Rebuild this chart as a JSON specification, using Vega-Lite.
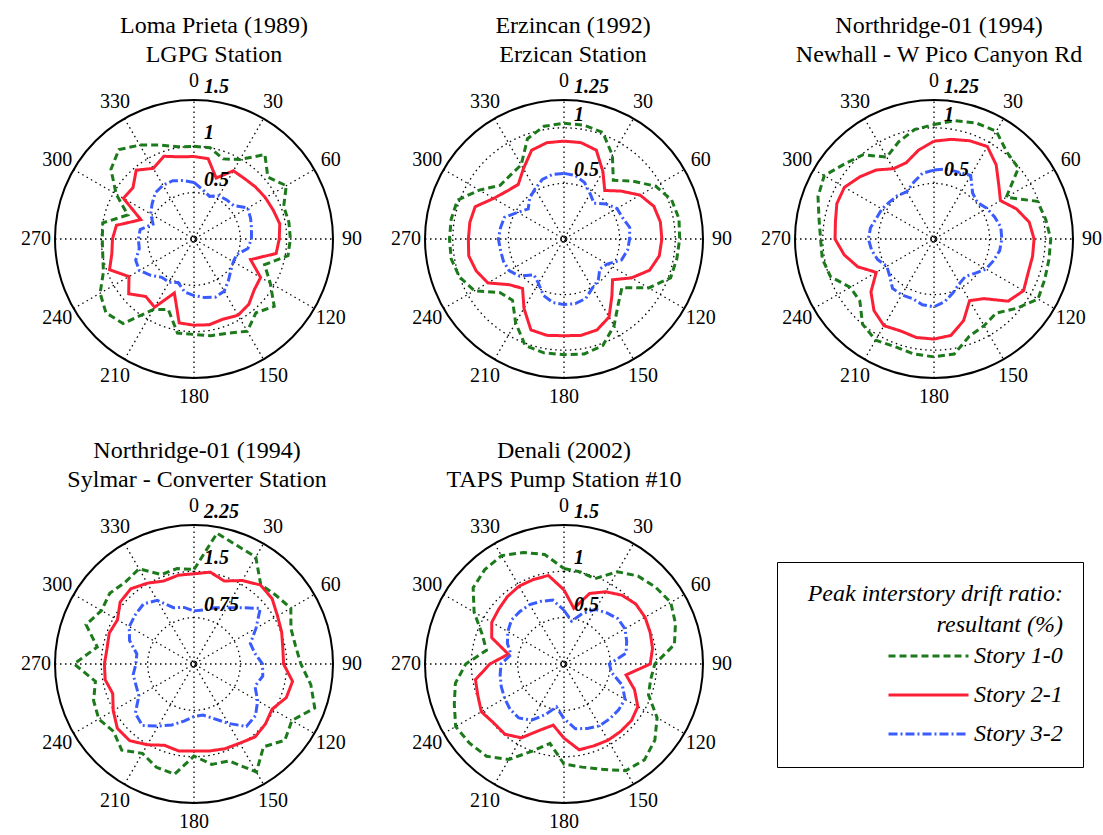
{
"$schema":"https://vega.github.io/schema/vega-lite/v6.json",
"background":"white",
"padding":{"left":21,"top":14,"right":0,"bottom":0},
"bounds":"flush",
"columns":3,
"spacing":{"row":147,"column":92},
"datasets":{
"spk":[{"a":0},{"a":30},{"a":60},{"a":90},{"a":120},{"a":150}],
"ang":[{"a":0},{"a":30},{"a":60},{"a":90},{"a":120},{"a":150},{"a":180},{"a":210},{"a":240},{"a":270},{"a":300},{"a":330}],
"lp":[
{"a":0,"Story 1-0":1.00,"Story 2-1":0.89,"Story 3-2":0.61},
{"a":10,"Story 1-0":1.00,"Story 2-1":0.88,"Story 3-2":0.54},
{"a":20,"Story 1-0":0.92,"Story 2-1":0.70,"Story 3-2":0.49},
{"a":30,"Story 1-0":0.99,"Story 2-1":0.85,"Story 3-2":0.54},
{"a":40,"Story 1-0":1.19,"Story 2-1":0.85,"Story 3-2":0.55},
{"a":50,"Story 1-0":1.04,"Story 2-1":0.87,"Story 3-2":0.56},
{"a":60,"Story 1-0":1.15,"Story 2-1":0.89,"Story 3-2":0.67},
{"a":70,"Story 1-0":1.03,"Story 2-1":0.91,"Story 3-2":0.65},
{"a":80,"Story 1-0":1.04,"Story 2-1":0.94,"Story 3-2":0.63},
{"a":90,"Story 1-0":1.04,"Story 2-1":0.92,"Story 3-2":0.62},
{"a":100,"Story 1-0":1.03,"Story 2-1":0.90,"Story 3-2":0.59},
{"a":110,"Story 1-0":0.81,"Story 2-1":0.65,"Story 3-2":0.49},
{"a":120,"Story 1-0":0.95,"Story 2-1":0.83,"Story 3-2":0.49},
{"a":130,"Story 1-0":1.13,"Story 2-1":0.85,"Story 3-2":0.52},
{"a":140,"Story 1-0":1.04,"Story 2-1":0.92,"Story 3-2":0.58},
{"a":150,"Story 1-0":1.15,"Story 2-1":0.95,"Story 3-2":0.65},
{"a":160,"Story 1-0":1.08,"Story 2-1":0.92,"Story 3-2":0.67},
{"a":170,"Story 1-0":1.06,"Story 2-1":0.94,"Story 3-2":0.64},
{"a":180,"Story 1-0":1.03,"Story 2-1":0.93,"Story 3-2":0.61},
{"a":190,"Story 1-0":1.03,"Story 2-1":0.92,"Story 3-2":0.58},
{"a":200,"Story 1-0":0.81,"Story 2-1":0.62,"Story 3-2":0.50},
{"a":210,"Story 1-0":0.88,"Story 2-1":0.85,"Story 3-2":0.54},
{"a":220,"Story 1-0":1.19,"Story 2-1":0.81,"Story 3-2":0.54},
{"a":230,"Story 1-0":1.24,"Story 2-1":0.92,"Story 3-2":0.61},
{"a":240,"Story 1-0":1.17,"Story 2-1":0.81,"Story 3-2":0.68},
{"a":250,"Story 1-0":1.04,"Story 2-1":0.97,"Story 3-2":0.67},
{"a":260,"Story 1-0":1.00,"Story 2-1":0.90,"Story 3-2":0.60},
{"a":270,"Story 1-0":0.99,"Story 2-1":0.88,"Story 3-2":0.60},
{"a":280,"Story 1-0":1.00,"Story 2-1":0.85,"Story 3-2":0.59},
{"a":290,"Story 1-0":0.76,"Story 2-1":0.61,"Story 3-2":0.47},
{"a":300,"Story 1-0":0.97,"Story 2-1":0.88,"Story 3-2":0.54},
{"a":310,"Story 1-0":1.17,"Story 2-1":0.86,"Story 3-2":0.59},
{"a":320,"Story 1-0":1.26,"Story 2-1":0.97,"Story 3-2":0.65},
{"a":330,"Story 1-0":1.17,"Story 2-1":0.88,"Story 3-2":0.67},
{"a":340,"Story 1-0":1.08,"Story 2-1":0.95,"Story 3-2":0.67},
{"a":350,"Story 1-0":1.01,"Story 2-1":0.90,"Story 3-2":0.64},
{"a":360,"Story 1-0":1.00,"Story 2-1":0.89,"Story 3-2":0.61}],
"erz":[
{"a":0,"Story 1-0":1.04,"Story 2-1":0.88,"Story 3-2":0.59},
{"a":10,"Story 1-0":1.04,"Story 2-1":0.88,"Story 3-2":0.58},
{"a":20,"Story 1-0":1.02,"Story 2-1":0.85,"Story 3-2":0.54},
{"a":30,"Story 1-0":0.87,"Story 2-1":0.70,"Story 3-2":0.47},
{"a":40,"Story 1-0":0.69,"Story 2-1":0.57,"Story 3-2":0.42},
{"a":50,"Story 1-0":0.81,"Story 2-1":0.67,"Story 3-2":0.49},
{"a":60,"Story 1-0":0.95,"Story 2-1":0.79,"Story 3-2":0.55},
{"a":70,"Story 1-0":1.03,"Story 2-1":0.86,"Story 3-2":0.56},
{"a":80,"Story 1-0":1.05,"Story 2-1":0.88,"Story 3-2":0.60},
{"a":90,"Story 1-0":1.04,"Story 2-1":0.88,"Story 3-2":0.59},
{"a":100,"Story 1-0":1.03,"Story 2-1":0.87,"Story 3-2":0.58},
{"a":110,"Story 1-0":1.02,"Story 2-1":0.82,"Story 3-2":0.55},
{"a":120,"Story 1-0":0.88,"Story 2-1":0.70,"Story 3-2":0.45},
{"a":130,"Story 1-0":0.68,"Story 2-1":0.57,"Story 3-2":0.42},
{"a":140,"Story 1-0":0.76,"Story 2-1":0.67,"Story 3-2":0.48},
{"a":150,"Story 1-0":0.90,"Story 2-1":0.81,"Story 3-2":0.51},
{"a":160,"Story 1-0":1.02,"Story 2-1":0.87,"Story 3-2":0.57},
{"a":170,"Story 1-0":1.05,"Story 2-1":0.88,"Story 3-2":0.59},
{"a":180,"Story 1-0":1.04,"Story 2-1":0.87,"Story 3-2":0.59},
{"a":190,"Story 1-0":1.04,"Story 2-1":0.88,"Story 3-2":0.58},
{"a":200,"Story 1-0":1.02,"Story 2-1":0.87,"Story 3-2":0.54},
{"a":210,"Story 1-0":0.87,"Story 2-1":0.72,"Story 3-2":0.46},
{"a":220,"Story 1-0":0.72,"Story 2-1":0.58,"Story 3-2":0.42},
{"a":230,"Story 1-0":0.75,"Story 2-1":0.64,"Story 3-2":0.52},
{"a":240,"Story 1-0":0.93,"Story 2-1":0.79,"Story 3-2":0.57},
{"a":250,"Story 1-0":1.00,"Story 2-1":0.84,"Story 3-2":0.58},
{"a":260,"Story 1-0":1.03,"Story 2-1":0.87,"Story 3-2":0.58},
{"a":270,"Story 1-0":1.03,"Story 2-1":0.86,"Story 3-2":0.59},
{"a":280,"Story 1-0":1.03,"Story 2-1":0.86,"Story 3-2":0.58},
{"a":290,"Story 1-0":1.02,"Story 2-1":0.85,"Story 3-2":0.57},
{"a":300,"Story 1-0":0.88,"Story 2-1":0.73,"Story 3-2":0.48},
{"a":310,"Story 1-0":0.75,"Story 2-1":0.67,"Story 3-2":0.42},
{"a":320,"Story 1-0":0.75,"Story 2-1":0.64,"Story 3-2":0.48},
{"a":330,"Story 1-0":0.77,"Story 2-1":0.73,"Story 3-2":0.52},
{"a":340,"Story 1-0":0.96,"Story 2-1":0.85,"Story 3-2":0.57},
{"a":350,"Story 1-0":1.03,"Story 2-1":0.88,"Story 3-2":0.59},
{"a":360,"Story 1-0":1.04,"Story 2-1":0.88,"Story 3-2":0.59}],
"nwh":[
{"a":0,"Story 1-0":1.03,"Story 2-1":0.88,"Story 3-2":0.62},
{"a":10,"Story 1-0":1.08,"Story 2-1":0.91,"Story 3-2":0.64},
{"a":20,"Story 1-0":1.11,"Story 2-1":0.94,"Story 3-2":0.64},
{"a":30,"Story 1-0":1.12,"Story 2-1":0.96,"Story 3-2":0.66},
{"a":40,"Story 1-0":1.02,"Story 2-1":0.87,"Story 3-2":0.54},
{"a":50,"Story 1-0":0.99,"Story 2-1":0.76,"Story 3-2":0.51},
{"a":60,"Story 1-0":0.75,"Story 2-1":0.69,"Story 3-2":0.55},
{"a":70,"Story 1-0":0.99,"Story 2-1":0.79,"Story 3-2":0.58},
{"a":80,"Story 1-0":1.02,"Story 2-1":0.87,"Story 3-2":0.61},
{"a":90,"Story 1-0":1.05,"Story 2-1":0.90,"Story 3-2":0.61},
{"a":100,"Story 1-0":1.05,"Story 2-1":0.90,"Story 3-2":0.60},
{"a":110,"Story 1-0":1.06,"Story 2-1":0.90,"Story 3-2":0.57},
{"a":120,"Story 1-0":1.08,"Story 2-1":0.93,"Story 3-2":0.54},
{"a":130,"Story 1-0":0.97,"Story 2-1":0.87,"Story 3-2":0.48},
{"a":140,"Story 1-0":0.87,"Story 2-1":0.70,"Story 3-2":0.44},
{"a":150,"Story 1-0":0.90,"Story 2-1":0.64,"Story 3-2":0.46},
{"a":160,"Story 1-0":0.93,"Story 2-1":0.78,"Story 3-2":0.51},
{"a":170,"Story 1-0":1.05,"Story 2-1":0.88,"Story 3-2":0.57},
{"a":180,"Story 1-0":1.06,"Story 2-1":0.90,"Story 3-2":0.61},
{"a":190,"Story 1-0":1.05,"Story 2-1":0.90,"Story 3-2":0.60},
{"a":200,"Story 1-0":1.03,"Story 2-1":0.88,"Story 3-2":0.57},
{"a":210,"Story 1-0":1.05,"Story 2-1":0.90,"Story 3-2":0.58},
{"a":220,"Story 1-0":1.00,"Story 2-1":0.84,"Story 3-2":0.58},
{"a":230,"Story 1-0":0.87,"Story 2-1":0.74,"Story 3-2":0.52},
{"a":240,"Story 1-0":0.87,"Story 2-1":0.60,"Story 3-2":0.49},
{"a":250,"Story 1-0":0.99,"Story 2-1":0.73,"Story 3-2":0.54},
{"a":260,"Story 1-0":1.02,"Story 2-1":0.82,"Story 3-2":0.57},
{"a":270,"Story 1-0":1.02,"Story 2-1":0.89,"Story 3-2":0.59},
{"a":280,"Story 1-0":1.05,"Story 2-1":0.90,"Story 3-2":0.58},
{"a":290,"Story 1-0":1.11,"Story 2-1":0.93,"Story 3-2":0.55},
{"a":300,"Story 1-0":1.14,"Story 2-1":0.93,"Story 3-2":0.54},
{"a":310,"Story 1-0":1.05,"Story 2-1":0.87,"Story 3-2":0.52},
{"a":320,"Story 1-0":0.99,"Story 2-1":0.81,"Story 3-2":0.51},
{"a":330,"Story 1-0":0.85,"Story 2-1":0.73,"Story 3-2":0.49},
{"a":340,"Story 1-0":0.93,"Story 2-1":0.73,"Story 3-2":0.54},
{"a":350,"Story 1-0":1.00,"Story 2-1":0.81,"Story 3-2":0.60},
{"a":360,"Story 1-0":1.03,"Story 2-1":0.88,"Story 3-2":0.62}],
"syl":[
{"a":0,"Story 1-0":1.53,"Story 2-1":1.46,"Story 3-2":0.86},
{"a":10,"Story 1-0":2.15,"Story 2-1":1.51,"Story 3-2":0.89},
{"a":20,"Story 1-0":2.04,"Story 2-1":1.43,"Story 3-2":0.97},
{"a":30,"Story 1-0":2.00,"Story 2-1":1.56,"Story 3-2":1.05},
{"a":40,"Story 1-0":1.68,"Story 2-1":1.67,"Story 3-2":1.19},
{"a":50,"Story 1-0":1.73,"Story 2-1":1.65,"Story 3-2":1.40},
{"a":60,"Story 1-0":1.81,"Story 2-1":1.56,"Story 3-2":1.16},
{"a":70,"Story 1-0":1.67,"Story 2-1":1.51,"Story 3-2":0.97},
{"a":80,"Story 1-0":1.67,"Story 2-1":1.46,"Story 3-2":1.00},
{"a":90,"Story 1-0":1.73,"Story 2-1":1.45,"Story 3-2":1.11},
{"a":100,"Story 1-0":1.92,"Story 2-1":1.62,"Story 3-2":1.13},
{"a":110,"Story 1-0":2.08,"Story 2-1":1.59,"Story 3-2":1.05},
{"a":120,"Story 1-0":1.83,"Story 2-1":1.46,"Story 3-2":1.19},
{"a":130,"Story 1-0":1.92,"Story 2-1":1.51,"Story 3-2":1.30},
{"a":140,"Story 1-0":1.75,"Story 2-1":1.54,"Story 3-2":1.32},
{"a":150,"Story 1-0":2.02,"Story 2-1":1.48,"Story 3-2":1.11},
{"a":160,"Story 1-0":1.67,"Story 2-1":1.46,"Story 3-2":0.94},
{"a":170,"Story 1-0":1.65,"Story 2-1":1.43,"Story 3-2":0.84},
{"a":180,"Story 1-0":1.49,"Story 2-1":1.41,"Story 3-2":0.85},
{"a":190,"Story 1-0":1.81,"Story 2-1":1.43,"Story 3-2":0.94},
{"a":200,"Story 1-0":1.78,"Story 2-1":1.40,"Story 3-2":1.05},
{"a":210,"Story 1-0":1.67,"Story 2-1":1.51,"Story 3-2":1.16},
{"a":220,"Story 1-0":1.82,"Story 2-1":1.62,"Story 3-2":1.30},
{"a":230,"Story 1-0":1.70,"Story 2-1":1.62,"Story 3-2":1.24},
{"a":240,"Story 1-0":1.78,"Story 2-1":1.51,"Story 3-2":1.03},
{"a":250,"Story 1-0":1.73,"Story 2-1":1.40,"Story 3-2":1.00},
{"a":260,"Story 1-0":1.62,"Story 2-1":1.46,"Story 3-2":1.00},
{"a":270,"Story 1-0":1.94,"Story 2-1":1.45,"Story 3-2":0.94},
{"a":280,"Story 1-0":1.59,"Story 2-1":1.43,"Story 3-2":0.94},
{"a":290,"Story 1-0":1.86,"Story 2-1":1.46,"Story 3-2":1.11},
{"a":300,"Story 1-0":1.73,"Story 2-1":1.43,"Story 3-2":1.21},
{"a":310,"Story 1-0":1.78,"Story 2-1":1.56,"Story 3-2":1.24},
{"a":320,"Story 1-0":1.73,"Story 2-1":1.59,"Story 3-2":1.27},
{"a":330,"Story 1-0":1.78,"Story 2-1":1.51,"Story 3-2":1.19},
{"a":340,"Story 1-0":1.54,"Story 2-1":1.43,"Story 3-2":0.97},
{"a":350,"Story 1-0":1.57,"Story 2-1":1.46,"Story 3-2":0.93},
{"a":360,"Story 1-0":1.53,"Story 2-1":1.46,"Story 3-2":0.86}],
"den":[
{"a":0,"Story 1-0":1.03,"Story 2-1":0.80,"Story 3-2":0.58},
{"a":10,"Story 1-0":1.01,"Story 2-1":0.61,"Story 3-2":0.47},
{"a":20,"Story 1-0":0.98,"Story 2-1":0.81,"Story 3-2":0.58},
{"a":30,"Story 1-0":1.15,"Story 2-1":0.90,"Story 3-2":0.68},
{"a":40,"Story 1-0":1.24,"Story 2-1":0.97,"Story 3-2":0.72},
{"a":50,"Story 1-0":1.29,"Story 2-1":1.01,"Story 3-2":0.76},
{"a":60,"Story 1-0":1.33,"Story 2-1":1.01,"Story 3-2":0.76},
{"a":70,"Story 1-0":1.28,"Story 2-1":0.99,"Story 3-2":0.72},
{"a":80,"Story 1-0":1.21,"Story 2-1":0.97,"Story 3-2":0.68},
{"a":90,"Story 1-0":0.98,"Story 2-1":0.93,"Story 3-2":0.49},
{"a":100,"Story 1-0":0.95,"Story 2-1":0.68,"Story 3-2":0.52},
{"a":110,"Story 1-0":0.97,"Story 2-1":0.81,"Story 3-2":0.67},
{"a":120,"Story 1-0":1.16,"Story 2-1":0.92,"Story 3-2":0.76},
{"a":130,"Story 1-0":1.28,"Story 2-1":0.95,"Story 3-2":0.77},
{"a":140,"Story 1-0":1.35,"Story 2-1":0.95,"Story 3-2":0.77},
{"a":150,"Story 1-0":1.33,"Story 2-1":0.95,"Story 3-2":0.77},
{"a":160,"Story 1-0":1.21,"Story 2-1":0.94,"Story 3-2":0.74},
{"a":170,"Story 1-0":1.13,"Story 2-1":0.94,"Story 3-2":0.71},
{"a":180,"Story 1-0":1.08,"Story 2-1":0.80,"Story 3-2":0.59},
{"a":190,"Story 1-0":0.87,"Story 2-1":0.67,"Story 3-2":0.47},
{"a":200,"Story 1-0":1.00,"Story 2-1":0.76,"Story 3-2":0.58},
{"a":210,"Story 1-0":1.19,"Story 2-1":0.92,"Story 3-2":0.70},
{"a":220,"Story 1-0":1.30,"Story 2-1":0.99,"Story 3-2":0.76},
{"a":230,"Story 1-0":1.33,"Story 2-1":0.99,"Story 3-2":0.76},
{"a":240,"Story 1-0":1.35,"Story 2-1":1.03,"Story 3-2":0.74},
{"a":250,"Story 1-0":1.26,"Story 2-1":0.99,"Story 3-2":0.72},
{"a":260,"Story 1-0":1.19,"Story 2-1":0.97,"Story 3-2":0.70},
{"a":270,"Story 1-0":1.06,"Story 2-1":0.80,"Story 3-2":0.68},
{"a":280,"Story 1-0":0.85,"Story 2-1":0.61,"Story 3-2":0.58},
{"a":290,"Story 1-0":0.94,"Story 2-1":0.83,"Story 3-2":0.65},
{"a":300,"Story 1-0":1.12,"Story 2-1":0.90,"Story 3-2":0.70},
{"a":310,"Story 1-0":1.28,"Story 2-1":0.92,"Story 3-2":0.74},
{"a":320,"Story 1-0":1.33,"Story 2-1":0.95,"Story 3-2":0.74},
{"a":330,"Story 1-0":1.35,"Story 2-1":0.97,"Story 3-2":0.74},
{"a":340,"Story 1-0":1.28,"Story 2-1":0.97,"Story 3-2":0.72},
{"a":350,"Story 1-0":1.20,"Story 2-1":0.97,"Story 3-2":0.70},
{"a":360,"Story 1-0":1.03,"Story 2-1":0.80,"Story 3-2":0.58}]
},
"concat":[
{"width":278,"height":278,"title":{"text":["Loma Prieta (1989)","LGPG Station"],"dx":20},
"layer":[
{"data":{"values":[{"r":0.5},{"r":1}]},"mark":{"type":"arc","theta":6.283185307179586,"fill":"transparent","stroke":"black","strokeWidth":1.3,"strokeDash":[1.5,3.5]},"encoding":{"radius":{"field":"r","type":"quantitative","stack":null,"scale":{"type":"linear","domain":[0,1.5],"range":[0,139],"zero":true}}}},
{"data":{"values":[{"r":1.5}]},"mark":{"type":"arc","theta":6.283185307179586,"fill":"transparent","stroke":"black","strokeWidth":2},"encoding":{"radius":{"field":"r","type":"quantitative","stack":null,"scale":{"type":"linear","domain":[0,1.5],"range":[0,139],"zero":true}}}},
{"data":{"values":[{}]},"mark":{"type":"arc","theta":6.283185307179586,"radius":3,"fill":"transparent","stroke":"black","strokeWidth":1},"encoding":{}},
{"data":{"name":"spk"},"transform":[{"calculate":"1.5*sin(datum.a*PI/180)","as":"ex"},{"calculate":"1.5*cos(datum.a*PI/180)","as":"ey"},{"calculate":"-datum.ex","as":"sx"},{"calculate":"-datum.ey","as":"sy"}],"mark":{"type":"rule","stroke":"black","strokeWidth":1.3,"strokeDash":[1.5,3.5]},"encoding":{"x":{"field":"sx","type":"quantitative","scale":{"domain":[-1.5,1.5],"nice":false,"zero":false},"axis":null},"y":{"field":"sy","type":"quantitative","scale":{"domain":[-1.5,1.5],"nice":false,"zero":false},"axis":null},"x2":{"field":"ex"},"y2":{"field":"ey"}}},
{"data":{"name":"ang"},"mark":{"type":"text","radius":158,"font":"Liberation Serif","fontSize":20,"color":"black","align":"center","baseline":"middle"},"encoding":{"theta":{"field":"a","type":"quantitative","stack":null,"scale":{"type":"linear","domain":[0,360],"range":[0,6.283185307179586],"zero":true}},"text":{"field":"a","type":"nominal"}}},
{"data":{"name":"lp"},"transform":[{"fold":["Story 1-0","Story 2-1","Story 3-2"],"as":["key","v"]},{"calculate":"datum.v*sin(datum.a*PI/180)","as":"x"},{"calculate":"datum.v*cos(datum.a*PI/180)","as":"y"}],"mark":{"type":"line","strokeWidth":3,"clip":false},"encoding":{"x":{"field":"x","type":"quantitative"},"y":{"field":"y","type":"quantitative"},"order":{"field":"a","type":"quantitative"},
"color":{"field":"key","type":"nominal","title":["Peak interstory drift ratio:","resultant (%)"],"scale":{"domain":["Story 1-0","Story 2-1","Story 3-2"],"range":["#1c7a1c","#fb2036","#3a5cff"]},"legend":{"orient":"none","legendX":722,"legendY":462}},
"strokeDash":{"field":"key","type":"nominal","title":["Peak interstory drift ratio:","resultant (%)"],"scale":{"domain":["Story 1-0","Story 2-1","Story 3-2"],"range":[[7,4],[1,0],[9,3,2,3]]},"legend":{"orient":"none","legendX":722,"legendY":462}}}},
{"data":{"values":[{"r":0.5},{"r":1},{"r":1.5}]},"mark":{"type":"text","theta":0,"radiusOffset":3,"align":"left","baseline":"bottom","dx":10,"font":"Liberation Serif","fontSize":20,"fontStyle":"italic","fontWeight":"bold","color":"black"},"encoding":{"radius":{"field":"r","type":"quantitative","stack":null},"text":{"field":"r","type":"nominal"}}}
]},
{"width":278,"height":278,"title":{"text":["Erzincan (1992)","Erzican Station"],"dx":9},
"layer":[
{"data":{"values":[{"r":0.5},{"r":1}]},"mark":{"type":"arc","theta":6.283185307179586,"fill":"transparent","stroke":"black","strokeWidth":1.3,"strokeDash":[1.5,3.5]},"encoding":{"radius":{"field":"r","type":"quantitative","stack":null,"scale":{"type":"linear","domain":[0,1.25],"range":[0,139],"zero":true}}}},
{"data":{"values":[{"r":1.25}]},"mark":{"type":"arc","theta":6.283185307179586,"fill":"transparent","stroke":"black","strokeWidth":2},"encoding":{"radius":{"field":"r","type":"quantitative","stack":null,"scale":{"type":"linear","domain":[0,1.25],"range":[0,139],"zero":true}}}},
{"data":{"values":[{}]},"mark":{"type":"arc","theta":6.283185307179586,"radius":3,"fill":"transparent","stroke":"black","strokeWidth":1},"encoding":{}},
{"data":{"name":"spk"},"transform":[{"calculate":"1.25*sin(datum.a*PI/180)","as":"ex"},{"calculate":"1.25*cos(datum.a*PI/180)","as":"ey"},{"calculate":"-datum.ex","as":"sx"},{"calculate":"-datum.ey","as":"sy"}],"mark":{"type":"rule","stroke":"black","strokeWidth":1.3,"strokeDash":[1.5,3.5]},"encoding":{"x":{"field":"sx","type":"quantitative","scale":{"domain":[-1.25,1.25],"nice":false,"zero":false},"axis":null},"y":{"field":"sy","type":"quantitative","scale":{"domain":[-1.25,1.25],"nice":false,"zero":false},"axis":null},"x2":{"field":"ex"},"y2":{"field":"ey"}}},
{"data":{"name":"ang"},"mark":{"type":"text","radius":158,"font":"Liberation Serif","fontSize":20,"color":"black","align":"center","baseline":"middle"},"encoding":{"theta":{"field":"a","type":"quantitative","stack":null,"scale":{"type":"linear","domain":[0,360],"range":[0,6.283185307179586],"zero":true}},"text":{"field":"a","type":"nominal"}}},
{"data":{"name":"erz"},"transform":[{"fold":["Story 1-0","Story 2-1","Story 3-2"],"as":["key","v"]},{"calculate":"datum.v*sin(datum.a*PI/180)","as":"x"},{"calculate":"datum.v*cos(datum.a*PI/180)","as":"y"}],"mark":{"type":"line","strokeWidth":3,"clip":false},"encoding":{"x":{"field":"x","type":"quantitative"},"y":{"field":"y","type":"quantitative"},"order":{"field":"a","type":"quantitative"},
"color":{"field":"key","type":"nominal","title":["Peak interstory drift ratio:","resultant (%)"],"scale":{"domain":["Story 1-0","Story 2-1","Story 3-2"],"range":["#1c7a1c","#fb2036","#3a5cff"]},"legend":{"orient":"none","legendX":722,"legendY":462}},
"strokeDash":{"field":"key","type":"nominal","title":["Peak interstory drift ratio:","resultant (%)"],"scale":{"domain":["Story 1-0","Story 2-1","Story 3-2"],"range":[[7,4],[1,0],[9,3,2,3]]},"legend":{"orient":"none","legendX":722,"legendY":462}}}},
{"data":{"values":[{"r":0.5},{"r":1},{"r":1.25}]},"mark":{"type":"text","theta":0,"radiusOffset":3,"align":"left","baseline":"bottom","dx":10,"font":"Liberation Serif","fontSize":20,"fontStyle":"italic","fontWeight":"bold","color":"black"},"encoding":{"radius":{"field":"r","type":"quantitative","stack":null},"text":{"field":"r","type":"nominal"}}}
]},
{"width":278,"height":278,"title":{"text":["Northridge-01 (1994)","Newhall - W Pico Canyon Rd"],"dx":5},
"layer":[
{"data":{"values":[{"r":0.5},{"r":1}]},"mark":{"type":"arc","theta":6.283185307179586,"fill":"transparent","stroke":"black","strokeWidth":1.3,"strokeDash":[1.5,3.5]},"encoding":{"radius":{"field":"r","type":"quantitative","stack":null,"scale":{"type":"linear","domain":[0,1.25],"range":[0,139],"zero":true}}}},
{"data":{"values":[{"r":1.25}]},"mark":{"type":"arc","theta":6.283185307179586,"fill":"transparent","stroke":"black","strokeWidth":2},"encoding":{"radius":{"field":"r","type":"quantitative","stack":null,"scale":{"type":"linear","domain":[0,1.25],"range":[0,139],"zero":true}}}},
{"data":{"values":[{}]},"mark":{"type":"arc","theta":6.283185307179586,"radius":3,"fill":"transparent","stroke":"black","strokeWidth":1},"encoding":{}},
{"data":{"name":"spk"},"transform":[{"calculate":"1.25*sin(datum.a*PI/180)","as":"ex"},{"calculate":"1.25*cos(datum.a*PI/180)","as":"ey"},{"calculate":"-datum.ex","as":"sx"},{"calculate":"-datum.ey","as":"sy"}],"mark":{"type":"rule","stroke":"black","strokeWidth":1.3,"strokeDash":[1.5,3.5]},"encoding":{"x":{"field":"sx","type":"quantitative","scale":{"domain":[-1.25,1.25],"nice":false,"zero":false},"axis":null},"y":{"field":"sy","type":"quantitative","scale":{"domain":[-1.25,1.25],"nice":false,"zero":false},"axis":null},"x2":{"field":"ex"},"y2":{"field":"ey"}}},
{"data":{"name":"ang"},"mark":{"type":"text","radius":158,"font":"Liberation Serif","fontSize":20,"color":"black","align":"center","baseline":"middle"},"encoding":{"theta":{"field":"a","type":"quantitative","stack":null,"scale":{"type":"linear","domain":[0,360],"range":[0,6.283185307179586],"zero":true}},"text":{"field":"a","type":"nominal"}}},
{"data":{"name":"nwh"},"transform":[{"fold":["Story 1-0","Story 2-1","Story 3-2"],"as":["key","v"]},{"calculate":"datum.v*sin(datum.a*PI/180)","as":"x"},{"calculate":"datum.v*cos(datum.a*PI/180)","as":"y"}],"mark":{"type":"line","strokeWidth":3,"clip":false},"encoding":{"x":{"field":"x","type":"quantitative"},"y":{"field":"y","type":"quantitative"},"order":{"field":"a","type":"quantitative"},
"color":{"field":"key","type":"nominal","title":["Peak interstory drift ratio:","resultant (%)"],"scale":{"domain":["Story 1-0","Story 2-1","Story 3-2"],"range":["#1c7a1c","#fb2036","#3a5cff"]},"legend":{"orient":"none","legendX":722,"legendY":462}},
"strokeDash":{"field":"key","type":"nominal","title":["Peak interstory drift ratio:","resultant (%)"],"scale":{"domain":["Story 1-0","Story 2-1","Story 3-2"],"range":[[7,4],[1,0],[9,3,2,3]]},"legend":{"orient":"none","legendX":722,"legendY":462}}}},
{"data":{"values":[{"r":0.5},{"r":1},{"r":1.25}]},"mark":{"type":"text","theta":0,"radiusOffset":3,"align":"left","baseline":"bottom","dx":10,"font":"Liberation Serif","fontSize":20,"fontStyle":"italic","fontWeight":"bold","color":"black"},"encoding":{"radius":{"field":"r","type":"quantitative","stack":null},"text":{"field":"r","type":"nominal"}}}
]},
{"width":278,"height":278,"title":{"text":["Northridge-01 (1994)","Sylmar - Converter Station"],"dx":3},
"layer":[
{"data":{"values":[{"r":0.75},{"r":1.5}]},"mark":{"type":"arc","theta":6.283185307179586,"fill":"transparent","stroke":"black","strokeWidth":1.3,"strokeDash":[1.5,3.5]},"encoding":{"radius":{"field":"r","type":"quantitative","stack":null,"scale":{"type":"linear","domain":[0,2.25],"range":[0,139],"zero":true}}}},
{"data":{"values":[{"r":2.25}]},"mark":{"type":"arc","theta":6.283185307179586,"fill":"transparent","stroke":"black","strokeWidth":2},"encoding":{"radius":{"field":"r","type":"quantitative","stack":null,"scale":{"type":"linear","domain":[0,2.25],"range":[0,139],"zero":true}}}},
{"data":{"values":[{}]},"mark":{"type":"arc","theta":6.283185307179586,"radius":3,"fill":"transparent","stroke":"black","strokeWidth":1},"encoding":{}},
{"data":{"name":"spk"},"transform":[{"calculate":"2.25*sin(datum.a*PI/180)","as":"ex"},{"calculate":"2.25*cos(datum.a*PI/180)","as":"ey"},{"calculate":"-datum.ex","as":"sx"},{"calculate":"-datum.ey","as":"sy"}],"mark":{"type":"rule","stroke":"black","strokeWidth":1.3,"strokeDash":[1.5,3.5]},"encoding":{"x":{"field":"sx","type":"quantitative","scale":{"domain":[-2.25,2.25],"nice":false,"zero":false},"axis":null},"y":{"field":"sy","type":"quantitative","scale":{"domain":[-2.25,2.25],"nice":false,"zero":false},"axis":null},"x2":{"field":"ex"},"y2":{"field":"ey"}}},
{"data":{"name":"ang"},"mark":{"type":"text","radius":158,"font":"Liberation Serif","fontSize":20,"color":"black","align":"center","baseline":"middle"},"encoding":{"theta":{"field":"a","type":"quantitative","stack":null,"scale":{"type":"linear","domain":[0,360],"range":[0,6.283185307179586],"zero":true}},"text":{"field":"a","type":"nominal"}}},
{"data":{"name":"syl"},"transform":[{"fold":["Story 1-0","Story 2-1","Story 3-2"],"as":["key","v"]},{"calculate":"datum.v*sin(datum.a*PI/180)","as":"x"},{"calculate":"datum.v*cos(datum.a*PI/180)","as":"y"}],"mark":{"type":"line","strokeWidth":3,"clip":false},"encoding":{"x":{"field":"x","type":"quantitative"},"y":{"field":"y","type":"quantitative"},"order":{"field":"a","type":"quantitative"},
"color":{"field":"key","type":"nominal","title":["Peak interstory drift ratio:","resultant (%)"],"scale":{"domain":["Story 1-0","Story 2-1","Story 3-2"],"range":["#1c7a1c","#fb2036","#3a5cff"]},"legend":{"orient":"none","legendX":722,"legendY":462}},
"strokeDash":{"field":"key","type":"nominal","title":["Peak interstory drift ratio:","resultant (%)"],"scale":{"domain":["Story 1-0","Story 2-1","Story 3-2"],"range":[[7,4],[1,0],[9,3,2,3]]},"legend":{"orient":"none","legendX":722,"legendY":462}}}},
{"data":{"values":[{"r":0.75},{"r":1.5},{"r":2.25}]},"mark":{"type":"text","theta":0,"radiusOffset":3,"align":"left","baseline":"bottom","dx":10,"font":"Liberation Serif","fontSize":20,"fontStyle":"italic","fontWeight":"bold","color":"black"},"encoding":{"radius":{"field":"r","type":"quantitative","stack":null},"text":{"field":"r","type":"nominal"}}}
]},
{"width":278,"height":278,"title":{"text":["Denali (2002)","TAPS Pump Station #10"]},
"layer":[
{"data":{"values":[{"r":0.5},{"r":1}]},"mark":{"type":"arc","theta":6.283185307179586,"fill":"transparent","stroke":"black","strokeWidth":1.3,"strokeDash":[1.5,3.5]},"encoding":{"radius":{"field":"r","type":"quantitative","stack":null,"scale":{"type":"linear","domain":[0,1.5],"range":[0,139],"zero":true}}}},
{"data":{"values":[{"r":1.5}]},"mark":{"type":"arc","theta":6.283185307179586,"fill":"transparent","stroke":"black","strokeWidth":2},"encoding":{"radius":{"field":"r","type":"quantitative","stack":null,"scale":{"type":"linear","domain":[0,1.5],"range":[0,139],"zero":true}}}},
{"data":{"values":[{}]},"mark":{"type":"arc","theta":6.283185307179586,"radius":3,"fill":"transparent","stroke":"black","strokeWidth":1},"encoding":{}},
{"data":{"name":"spk"},"transform":[{"calculate":"1.5*sin(datum.a*PI/180)","as":"ex"},{"calculate":"1.5*cos(datum.a*PI/180)","as":"ey"},{"calculate":"-datum.ex","as":"sx"},{"calculate":"-datum.ey","as":"sy"}],"mark":{"type":"rule","stroke":"black","strokeWidth":1.3,"strokeDash":[1.5,3.5]},"encoding":{"x":{"field":"sx","type":"quantitative","scale":{"domain":[-1.5,1.5],"nice":false,"zero":false},"axis":null},"y":{"field":"sy","type":"quantitative","scale":{"domain":[-1.5,1.5],"nice":false,"zero":false},"axis":null},"x2":{"field":"ex"},"y2":{"field":"ey"}}},
{"data":{"name":"ang"},"mark":{"type":"text","radius":158,"font":"Liberation Serif","fontSize":20,"color":"black","align":"center","baseline":"middle"},"encoding":{"theta":{"field":"a","type":"quantitative","stack":null,"scale":{"type":"linear","domain":[0,360],"range":[0,6.283185307179586],"zero":true}},"text":{"field":"a","type":"nominal"}}},
{"data":{"name":"den"},"transform":[{"fold":["Story 1-0","Story 2-1","Story 3-2"],"as":["key","v"]},{"calculate":"datum.v*sin(datum.a*PI/180)","as":"x"},{"calculate":"datum.v*cos(datum.a*PI/180)","as":"y"}],"mark":{"type":"line","strokeWidth":3,"clip":false},"encoding":{"x":{"field":"x","type":"quantitative"},"y":{"field":"y","type":"quantitative"},"order":{"field":"a","type":"quantitative"},
"color":{"field":"key","type":"nominal","title":["Peak interstory drift ratio:","resultant (%)"],"scale":{"domain":["Story 1-0","Story 2-1","Story 3-2"],"range":["#1c7a1c","#fb2036","#3a5cff"]},"legend":{"orient":"none","legendX":722,"legendY":462}},
"strokeDash":{"field":"key","type":"nominal","title":["Peak interstory drift ratio:","resultant (%)"],"scale":{"domain":["Story 1-0","Story 2-1","Story 3-2"],"range":[[7,4],[1,0],[9,3,2,3]]},"legend":{"orient":"none","legendX":722,"legendY":462}}}},
{"data":{"values":[{"r":0.5},{"r":1},{"r":1.5}]},"mark":{"type":"text","theta":0,"radiusOffset":3,"align":"left","baseline":"bottom","dx":10,"font":"Liberation Serif","fontSize":20,"fontStyle":"italic","fontWeight":"bold","color":"black"},"encoding":{"radius":{"field":"r","type":"quantitative","stack":null},"text":{"field":"r","type":"nominal"}}}
]}
],
"config":{
"view":{"stroke":null},
"title":{"font":"Liberation Serif","fontSize":24,"fontWeight":"normal","color":"black","lineHeight":29,"offset":4,"frame":"group","anchor":"middle"},
"legend":{"strokeColor":"black","fillColor":"white","padding":20,"titleFont":"Liberation Serif","titleFontSize":24,"titleFontStyle":"italic","titleFontWeight":"normal","titleColor":"black","titleAnchor":"end","titleAlign":"right","titleLineHeight":31,"titlePadding":6,"titleLimit":400,"labelFont":"Liberation Serif","labelFontSize":24,"labelFontStyle":"italic","labelColor":"black","symbolType":"stroke","symbolSize":6400,"symbolStrokeWidth":3,"symbolOffset":90,"labelOffset":4,"clipHeight":26,"rowPadding":13,"labelLimit":300}
}
}
